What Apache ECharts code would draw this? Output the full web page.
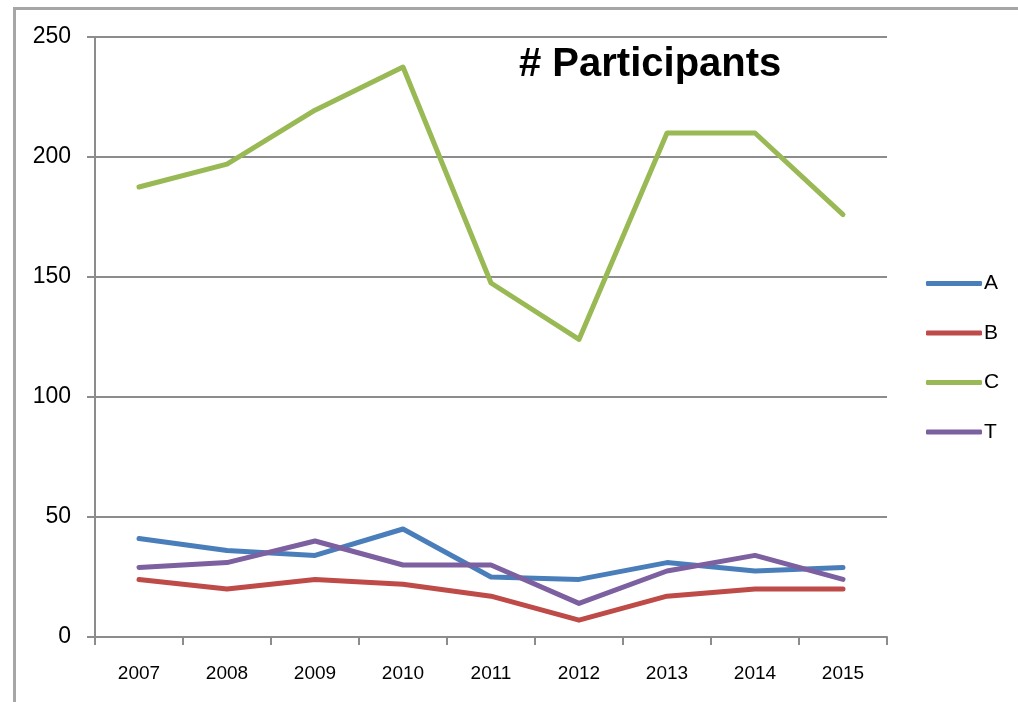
<!DOCTYPE html>
<html>
<head>
<meta charset="utf-8">
<script src="https://cdn.jsdelivr.net/npm/echarts@6/dist/echarts.min.js"></script>
<style>
  html, body { margin: 0; padding: 0; background: #fff; overflow: hidden; }
  #frame {
    position: absolute; left: 13px; top: 7px; width: 1100px; height: 800px;
    border-top: 3px solid #a6a6a6; border-left: 3px solid #a6a6a6;
  }
  #chart { position: absolute; left: 0; top: 0; width: 1018px; height: 702px; }
</style>
</head>
<body>
<div id="frame"></div>
<div id="chart"></div>
<script>
// Participants per year
const years = ['2007', '2008', '2009', '2010', '2011', '2012', '2013', '2014', '2015'];
const seriesA = [41, 36, 34, 45, 25, 24, 31, 27.5, 29];
const seriesB = [24, 20, 24, 22, 17, 7, 17, 20, 20];
const seriesC = [187.5, 197, 219.5, 237.5, 147.5, 124, 210, 210, 176];
const seriesT = [29, 31, 40, 30, 30, 14, 27.5, 34, 24];

const names = ['A', 'B', 'C', 'T'];
const colors = ['#4a7ebb', '#be4b48', '#98b954', '#7d60a0'];
const values = [seriesA, seriesB, seriesC, seriesT];

const chart = echarts.init(document.getElementById('chart'), null, { renderer: 'canvas' });

chart.setOption({
    backgroundColor: 'transparent',
    animation: false,
    title: {
        text: '# Participants',
        left: 514, top: 40,
        textStyle: { fontFamily: 'Liberation Sans', fontWeight: 'bold', fontSize: 40, color: '#000' }
    },
    legend: {
        orient: 'vertical',
        left: 926, top: 273,
        padding: 0,
        icon: 'roundRect',
        itemWidth: 56, itemHeight: 5,
        itemGap: 28.5,
        textStyle: { fontFamily: 'Liberation Sans', fontSize: 21, color: '#000', padding: [0, 0, 0, -3] },
        data: names
    },
    grid: { left: 95, right: 131, top: 37, bottom: 65, containLabel: false },
    xAxis: {
        type: 'category',
        data: years,
        boundaryGap: true,
        axisLine: { lineStyle: { color: '#8c8c8c', width: 2 } },
        axisTick: { show: true, length: 8, alignWithLabel: false, lineStyle: { color: '#8c8c8c', width: 2 } },
        axisLabel: { color: '#000', fontFamily: 'Liberation Sans', fontSize: 19, margin: 27 }
    },
    yAxis: {
        type: 'value',
        min: 0, max: 250, interval: 50,
        axisLine: { show: true, lineStyle: { color: '#8c8c8c', width: 2 } },
        axisTick: { show: true, length: 8, lineStyle: { color: '#8c8c8c', width: 2 } },
        axisLabel: { color: '#000', fontFamily: 'Liberation Sans', fontSize: 23, margin: 24 },
        splitLine: { show: true, lineStyle: { color: '#8c8c8c', width: 2 } }
    },
    series: names.map((n, i) => ({
        name: n,
        type: 'line',
        data: values[i],
        symbol: 'none',
        lineStyle: { color: colors[i], width: 5, cap: 'round', join: 'round' },
        itemStyle: { color: colors[i] }
    }))
});
</script>
</body>
</html>
